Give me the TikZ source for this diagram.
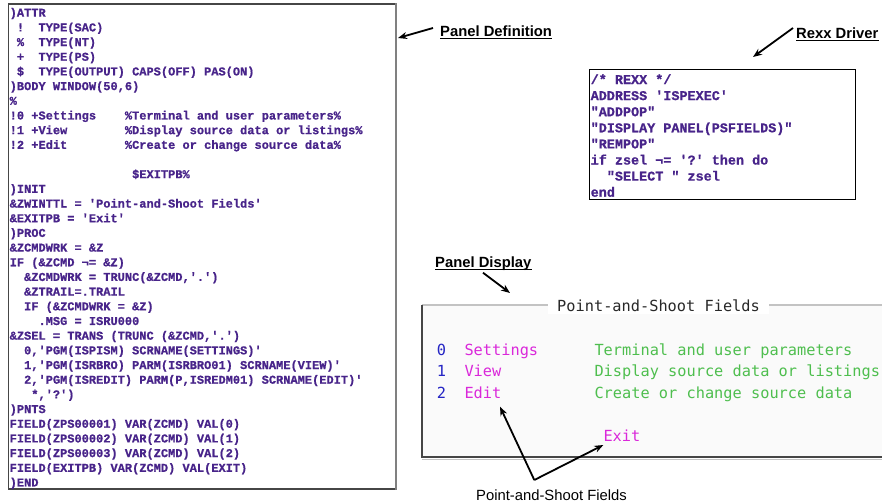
\documentclass[tikz,border=0pt]{standalone}
\usepackage{fontspec}
\setmonofont{Liberation Mono}[BoldFeatures={FakeBold=0.8}]
\newfontfamily\labelfont{Liberation Sans}
\newfontfamily\termfont{DejaVu Sans Mono}
\usetikzlibrary{arrows.meta}

\definecolor{codepurple}{RGB}{72,36,138}
\definecolor{termblue}{RGB}{36,36,196}
\definecolor{termmagenta}{RGB}{218,40,218}
\definecolor{termgreen}{RGB}{78,190,78}
\definecolor{termtitle}{RGB}{40,40,40}
\definecolor{frameDark}{RGB}{70,70,70}
\definecolor{frameLight}{RGB}{195,195,195}

\tikzset{
  codeln/.style={anchor=base west, inner sep=0pt, text=codepurple,
    font=\ttfamily\bfseries\frenchspacing\fontsize{12}{14}\selectfont},
  rexxln/.style={codeln, font=\ttfamily\bfseries\frenchspacing\fontsize{13.45}{16}\selectfont},
  termtxt/.style={anchor=base west, inner sep=0pt,
    font=\termfont\frenchspacing\fontsize{15.3}{18}\selectfont},
  lbl/.style={anchor=base west, inner sep=0pt, text=black,
    font=\labelfont\fontsize{14.8}{17}\selectfont},
  lblbold/.style={lbl, font=\labelfont\bfseries\fontsize{14.8}{17}\selectfont},
  uline/.style={line width=1pt, black},
  pointer/.style={line width=1.8pt, black, -{Stealth[length=9pt,width=7pt]}},
  listbox/.style={draw=frameDark, line width=1.2pt, fill=white, inner sep=0pt, anchor=north west},
}

\begin{document}
\begin{tikzpicture}[x=1pt,y=-1pt]
\useasboundingbox[fill=white] (0,0) rectangle (882,503);

% ---------- panel source listing ----------
\node[listbox, minimum width=387pt, minimum height=484.8pt] (defbox) at (7.5,3.5) {};
\draw[line width=2pt, gray] (defbox.north east) -- (defbox.south east);

\foreach \codetext [count=\i from 0] in {
  {)ATTR},
  {~!~~TYPE(SAC)},
  {~\%~~TYPE(NT)},
  {~+~~TYPE(PS)},
  {~\$~~TYPE(OUTPUT)~CAPS(OFF)~PAS(ON)},
  {)BODY~WINDOW(50,6)},
  {\%},
  {!0~+Settings~~~~\%Terminal~and~user~parameters\%},
  {!1~+View~~~~~~~~\%Display~source~data~or~listings\%},
  {!2~+Edit~~~~~~~~\%Create~or~change~source~data\%},
  {},
  {~~~~~~~~~~~~~~~~~\$EXITPB\%},
  {)INIT},
  {\&ZWINTTL~=~'Point-and-Shoot~Fields'},
  {\&EXITPB~=~'Exit'},
  {)PROC},
  {\&ZCMDWRK~=~\&Z},
  {IF~(\&ZCMD~¬=~\&Z)},
  {~~\&ZCMDWRK~=~TRUNC(\&ZCMD,'.')},
  {~~\&ZTRAIL=.TRAIL},
  {~~IF~(\&ZCMDWRK~=~\&Z)},
  {~~~~.MSG~=~ISRU000},
  {\&ZSEL~=~TRANS~(TRUNC~(\&ZCMD,'.')},
  {~~0,'PGM(ISPISM)~SCRNAME(SETTINGS)'},
  {~~1,'PGM(ISRBRO)~PARM(ISRBRO01)~SCRNAME(VIEW)'},
  {~~2,'PGM(ISREDIT)~PARM(P,ISREDM01)~SCRNAME(EDIT)'},
  {~~~*,'?')},
  {)PNTS},
  {FIELD(ZPS00001)~VAR(ZCMD)~VAL(0)},
  {FIELD(ZPS00002)~VAR(ZCMD)~VAL(1)},
  {FIELD(ZPS00003)~VAR(ZCMD)~VAL(2)},
  {FIELD(EXITPB)~VAR(ZCMD)~VAL(EXIT)},
  {)END}
}{
  \node[codeln] (def\i) at (9.5,{16.7+14.68*\i}) {\codetext};
}

% ---------- Rexx driver listing ----------
\node[listbox, draw=black, minimum width=266pt, minimum height=130pt] (rexxbox) at (589,69) {};
\foreach \codetext [count=\i from 0] in {
  {/*~REXX~*/},
  {ADDRESS~'ISPEXEC'},
  {"ADDPOP"},
  {"DISPLAY~PANEL(PSFIELDS)"},
  {"REMPOP"},
  {if~zsel~¬=~'?'~then~do},
  {~~"SELECT~"~zsel},
  {end}
}{
  \node[rexxln] (rexx\i) at (590.5,{84+16.1*\i}) {\codetext};
}

% ---------- displayed pop-up window ----------
\node[fill=black!2, inner sep=0pt, anchor=north west,
      minimum width=461pt, minimum height=152pt] (dispbox) at (422,305) {};
\draw[line width=2pt, frameLight] (dispbox.north west) -- (dispbox.north east);
\draw[line width=1pt, frameLight] ([yshift=-2pt]dispbox.south west) -- ([yshift=-2pt]dispbox.south east);
\draw[line width=2pt, frameDark] (dispbox.north west) -- (dispbox.south west) -- (dispbox.south east);
\node[termtxt, text=termtitle, fill=white, inner xsep=9pt, inner ysep=3pt]
  (wtitle) at (548,311) {Point-and-Shoot Fields};

\node[termtxt, text=termblue]    (num0)  at (436.7,355) {0};
\node[termtxt, text=termmagenta] (name0) at (464.3,355) {Settings};
\node[termtxt, text=termgreen]   (desc0) at (594.3,355) {Terminal and user parameters};
\node[termtxt, text=termblue]    (num1)  at (436.7,376.7) {1};
\node[termtxt, text=termmagenta] (name1) at (464.3,376.7) {View};
\node[termtxt, text=termgreen]   (desc1) at (594.3,376.7) {Display source data or listings};
\node[termtxt, text=termblue]    (num2)  at (436.7,398.7) {2};
\node[termtxt, text=termmagenta] (name2) at (464.3,398.7) {Edit};
\node[termtxt, text=termgreen]   (desc2) at (594.3,398.7) {Create or change source data};
\node[termtxt, text=termmagenta] (exitpb) at (603.3,441.7) {Exit};

% ---------- captions ----------
\node[lblbold] (lblDef) at (440,36.5) {Panel Definition};
\draw[uline] ([yshift=-2pt]lblDef.base west) -- ([yshift=-2pt]lblDef.base east);
\node[lblbold] (lblRexx) at (796,38.7) {Rexx Driver};
\draw[uline] ([yshift=-2pt]lblRexx.base west) -- ([yshift=-2pt]lblRexx.base east);
\node[lblbold] (lblDisp) at (435,267.4) {Panel Display};
\draw[uline] ([yshift=-1.6pt]lblDisp.base west) -- ([yshift=-1.6pt]lblDisp.base east);
\node[lbl] (lblPS) at (476,500.3) {Point-and-Shoot Fields};

% ---------- pointers ----------
\coordinate (defTail)  at (433,28);
\coordinate (defTip)   at (398,38);
\coordinate (rexxTail) at (793,28);
\coordinate (rexxTip)  at (753,57);
\coordinate (dispTail) at (483,272.7);
\coordinate (dispTip)  at (510,293);
\coordinate (psFork)   at (534.3,480);
\coordinate (psEdit)   at (500,406.7);
\coordinate (psExit)   at (603.3,445);

\draw[pointer] (defTail) -- (defTip);
\draw[pointer] (rexxTail) -- (rexxTip);
\draw[pointer] (dispTail) -- (dispTip);
\draw[pointer] (psFork) -- (psEdit);
\draw[pointer] (psFork) -- (psExit);
\end{tikzpicture}
\end{document}
